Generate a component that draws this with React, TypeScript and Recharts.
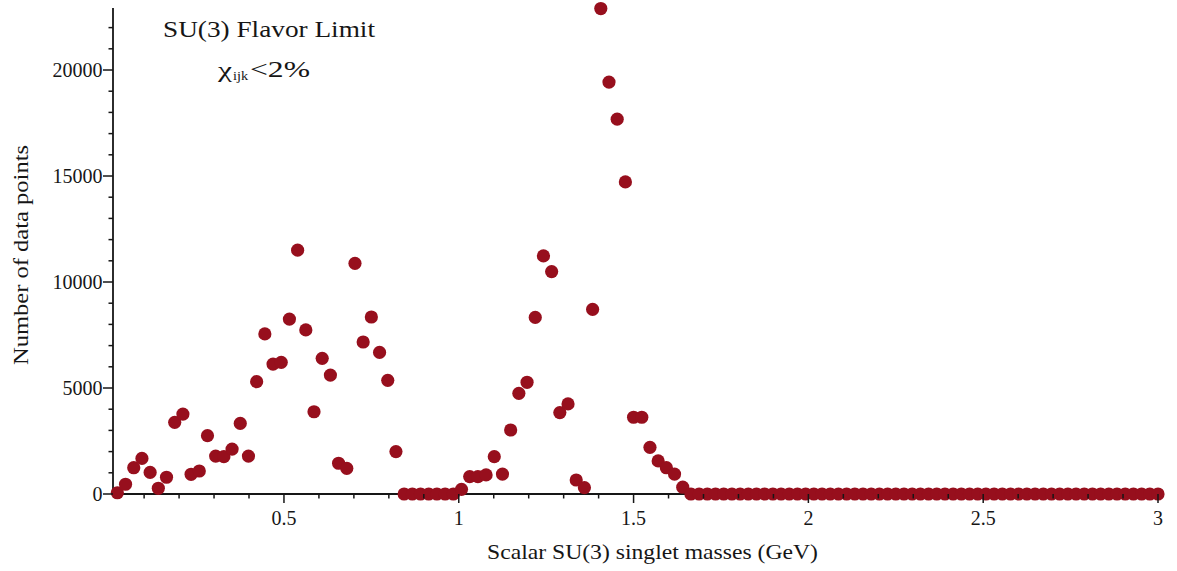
import { ScatterChart, Scatter, XAxis, YAxis } from "recharts";

// number of data points in each mass bin (128 bins, 3/128 GeV wide, 0 - 3 GeV)
const counts = [
  60, 460, 1240, 1680, 1020, 270, 790, 3380, 3770, 930, 1085, 2750, 1790, 1760, 2120, 3330,
  1790, 5300, 7550, 6130, 6210, 8250, 11500, 7740, 3880, 6400, 5610, 1450, 1210, 10880, 7170, 8350,
  6680, 5360, 2000, 0, 0, 0, 0, 0, 0, 0, 220, 820, 820, 900, 1760, 940,
  3020, 4750, 5270, 8330, 11230, 10490, 3840, 4250, 660, 300, 8710, 22900, 19430, 17680, 14720, 3620,
  3620, 2200, 1560, 1240, 940, 320, 0, 0, 0, 0, 0, 0, 0, 0, 0, 0,
  0, 0, 0, 0, 0, 0, 0, 0, 0, 0, 0, 0, 0, 0, 0, 0,
  0, 0, 0, 0, 0, 0, 0, 0, 0, 0, 0, 0, 0, 0, 0, 0,
  0, 0, 0, 0, 0, 0, 0, 0, 0, 0, 0, 0, 0, 0, 0, 0,
];

const BIN_WIDTH = 3 / 128;

const xTicks = [
  0.1, 0.2, 0.3, 0.4, 0.5, 0.6, 0.7, 0.8, 0.9, 1, 1.1, 1.2, 1.3, 1.4, 1.5,
  1.6, 1.7, 1.8, 1.9, 2, 2.1, 2.2, 2.3, 2.4, 2.5, 2.6, 2.7, 2.8, 2.9, 3,
];
const xLabels = [0.5, 1, 1.5, 2, 2.5, 3];

const yTicks = [
  0, 1000, 2000, 3000, 4000, 5000, 6000, 7000, 8000, 9000, 10000, 11000,
  12000, 13000, 14000, 15000, 16000, 17000, 18000, 19000, 20000, 21000, 22000,
];
const yLabels = [0, 5000, 10000, 15000, 20000];

const data = counts.map((n, i) => ({ mass: (i + 1) * BIN_WIDTH, n }));

const DOT = "#970f1d";
const INK = "#161616";
const SERIF = "'Liberation Serif', 'Times New Roman', serif";

function XTick({ x, y, payload }: any) {
  const v = payload.value;
  const major = xLabels.some((l) => Math.abs(l - v) < 1e-6);
  return (
    <g>
      <line x1={x} x2={x} y1={y} y2={y + (major ? 9 : 4.5)} stroke={INK} strokeWidth={1.5} />
      {major && (
        <text x={x} y={y + 31} textAnchor="middle" fontFamily={SERIF} fontSize={20} fill={INK}>
          {String(v)}
        </text>
      )}
    </g>
  );
}

function YTick({ x, y, payload }: any) {
  const v = payload.value;
  const major = yLabels.includes(v);
  return (
    <g>
      <line x1={x - (major ? 10 : 4.5)} x2={x} y1={y} y2={y} stroke={INK} strokeWidth={1.5} />
      {major && (
        <text x={x - 10.5} y={y + 7} textAnchor="end" fontFamily={SERIF} fontSize={20} fill={INK}>
          {String(v)}
        </text>
      )}
    </g>
  );
}

export default function App() {
  return (
    <div style={{ position: "absolute", left: 0, top: 0, width: 1177, height: 571 }}>
      <ScatterChart width={1177} height={571} margin={{ top: 8, right: 19, bottom: 0, left: 0 }}>
        <XAxis
          type="number"
          dataKey="mass"
          domain={[0.011, 3]}
          ticks={xTicks}
          interval={0}
          tickSize={0}
          tickMargin={0}
          tick={(p: any) => <XTick {...p} />}
          axisLine={{ stroke: INK, strokeWidth: 1.8 }}
          height={77}
          label={{
            content: () => (
              <text
                x={487}
                y={559}
                fontFamily={SERIF}
                fontSize={21}
                fill={INK}
                textLength={331}
                lengthAdjust="spacingAndGlyphs"
              >
                Scalar SU(3) singlet masses (GeV)
              </text>
            ),
          }}
        />
        <YAxis
          type="number"
          dataKey="n"
          domain={[0, 22925]}
          ticks={yTicks}
          interval={0}
          tickSize={0}
          tickMargin={0}
          tick={(p: any) => <YTick {...p} />}
          axisLine={{ stroke: INK, strokeWidth: 1.8 }}
          width={113}
          label={{
            content: () => (
              <text
                x={27.5}
                y={255}
                transform="rotate(-90, 27.5, 255)"
                textAnchor="middle"
                fontFamily={SERIF}
                fontSize={21}
                fill={INK}
                textLength={220}
                lengthAdjust="spacingAndGlyphs"
              >
                Number of data points
              </text>
            ),
          }}
        />
        <Scatter
          data={data}
          dataKey="n"
          isAnimationActive={false}
          shape={(p: any) => <circle cx={p.cx} cy={p.cy} r={6.6} fill={DOT} />}
        />
      </ScatterChart>
      <svg
        width={1177}
        height={571}
        style={{ position: "absolute", left: 0, top: 0, pointerEvents: "none" }}
      >
        <text
          x={163}
          y={37}
          fontFamily={SERIF}
          fontSize={23}
          fill={INK}
          textLength={212}
          lengthAdjust="spacingAndGlyphs"
        >
          SU(3) Flavor Limit
        </text>
        <text x={218} y={77} fontFamily={SERIF} fontSize={22} fill={INK} textLength={14} lengthAdjust="spacingAndGlyphs">
          χ
        </text>
        <text x={233} y={80} fontFamily={SERIF} fontSize={12} fill={INK} textLength={15} lengthAdjust="spacingAndGlyphs">
          ijk
        </text>
        <text x={250} y={77} fontFamily={SERIF} fontSize={23} fill={INK} textLength={60} lengthAdjust="spacingAndGlyphs">
          {"<2%"}
        </text>
      </svg>
    </div>
  );
}
